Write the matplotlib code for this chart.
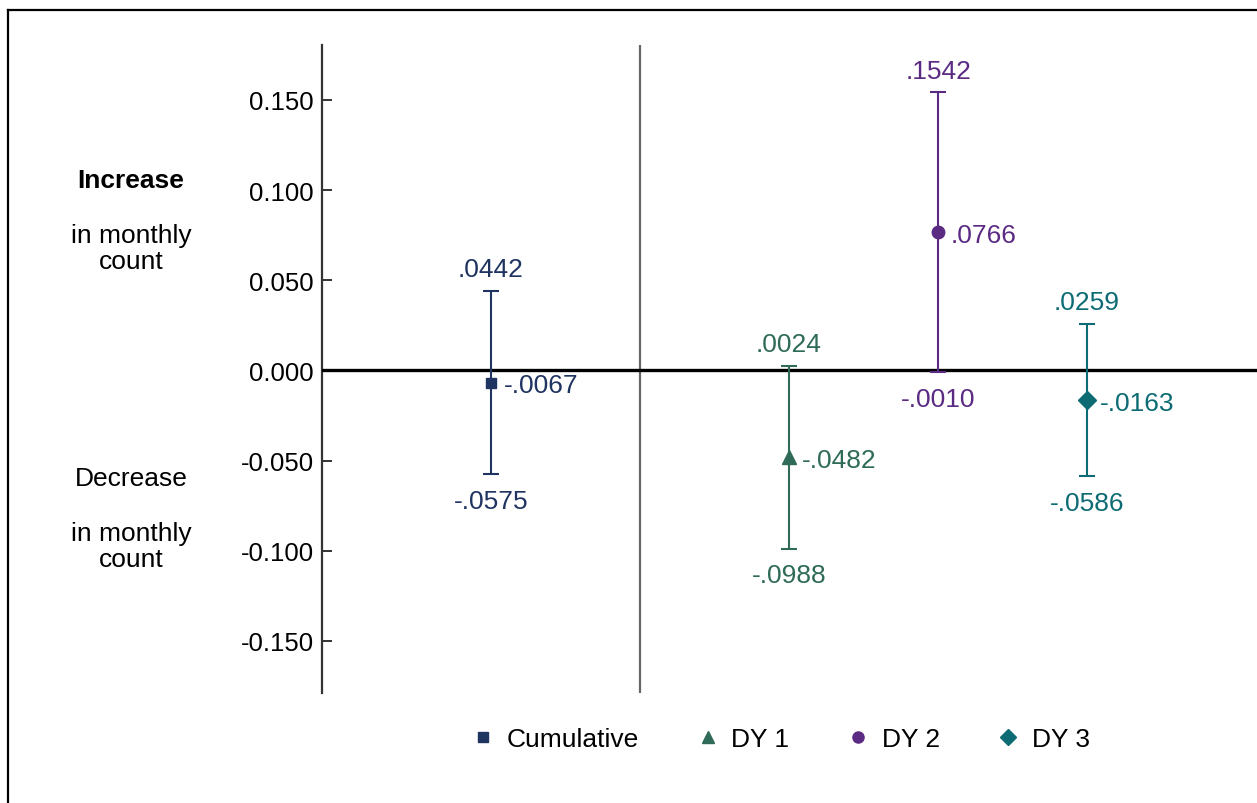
import matplotlib.pyplot as plt
from matplotlib.lines import Line2D

plt.rcParams['font.family'] = ['Liberation Sans', 'DejaVu Sans']

groups = ['Cumulative', 'DY 1', 'DY 2', 'DY 3']
positions = [1, 3, 4, 5]
estimates = [-0.0067, -0.0482, 0.0766, -0.0163]
upper = [0.0442, 0.0024, 0.1542, 0.0259]
lower = [-0.0575, -0.0988, -0.0010, -0.0586]
markers = ['s', '^', 'o', 'D']
msizes = [7.5, 9.5, 9, 9]
colors = ['#1f3461', '#2f6b58', '#5b2a83', '#0d6b74']
yticks = [0.15, 0.10, 0.05, 0.0, -0.05, -0.10, -0.15]

FS = 19


def fmt(v):
    s = '%.4f' % v
    return s.replace('0.', '.', 1)


fig = plt.figure(figsize=(12.57, 8.04), dpi=100)
ax = fig.add_axes([322 / 1257, 1 - 694 / 804, (1257 - 322) / 1257, 648 / 804])

for x, est, hi, lo, m, ms, c, g in zip(positions, estimates, upper, lower, markers, msizes, colors, groups):
    ax.errorbar(x, est, yerr=[[est - lo], [hi - est]], fmt=m, color=c, ecolor=c,
                elinewidth=1.5, capsize=5.5, capthick=1.5, markersize=ms, zorder=4, label=g)
    ax.annotate(fmt(hi), (x, hi), xytext=(0, 7), textcoords='offset points',
                ha='center', va='bottom', color=c, fontsize=FS)
    ax.annotate(fmt(lo), (x, lo), xytext=(0, -10.5), textcoords='offset points',
                ha='center', va='top', color=c, fontsize=FS)
    ax.annotate(fmt(est), (x, est), xytext=(9, -2), textcoords='offset points',
                ha='left', va='center', color=c, fontsize=FS)

ax.axhline(0, color='black', linewidth=2.4, zorder=3)
ax.axvline(2, color='#666666', linewidth=1.6, zorder=2)

ax.set_xlim(-0.134, 6.14)
ax.set_ylim(-0.1789, 0.1805)
ax.set_yticks(yticks)
ax.set_yticklabels(['%.3f' % t for t in yticks])
ax.set_xticks([])
ax.tick_params(axis='y', labelsize=18.5, direction='in', length=7, width=1.4,
               color='#333333', pad=6)
for side in ['top', 'right', 'bottom']:
    ax.spines[side].set_visible(False)
ax.spines['left'].set_color('#333333')
ax.spines['left'].set_linewidth(1.6)

# left side labels
fig.text(131 / 1257, 1 - 181 / 804, 'Increase', ha='center', va='center', fontsize=FS, fontweight='bold')
fig.text(131 / 1257, 1 - 249 / 804, 'in monthly\ncount', ha='center', va='center', fontsize=FS,
         linespacing=1.1)
fig.text(131 / 1257, 1 - 479 / 804, 'Decrease', ha='center', va='center', fontsize=FS)
fig.text(131 / 1257, 1 - 547 / 804, 'in monthly\ncount', ha='center', va='center', fontsize=FS,
         linespacing=1.1)

handles = [Line2D([], [], linestyle='none', marker=m, color=c, markersize=ms - 1)
           for m, ms, c in zip(markers, msizes, colors)]
fig.legend(handles, groups, loc='center', bbox_to_anchor=(780 / 1257, 1 - 740 / 804), ncol=4,
           frameon=False, fontsize=FS, columnspacing=2.1, handletextpad=0.4, handlelength=1.0)

# outer frame
fig.add_artist(Line2D([8 / 1257, 8 / 1257], [0, 1 - 11 / 804], color='black', linewidth=1.6,
                      transform=fig.transFigure))
fig.add_artist(Line2D([8 / 1257, 1], [1 - 11 / 804, 1 - 11 / 804], color='black', linewidth=1.6,
                      transform=fig.transFigure))

fig.savefig('out.png', dpi=100)
